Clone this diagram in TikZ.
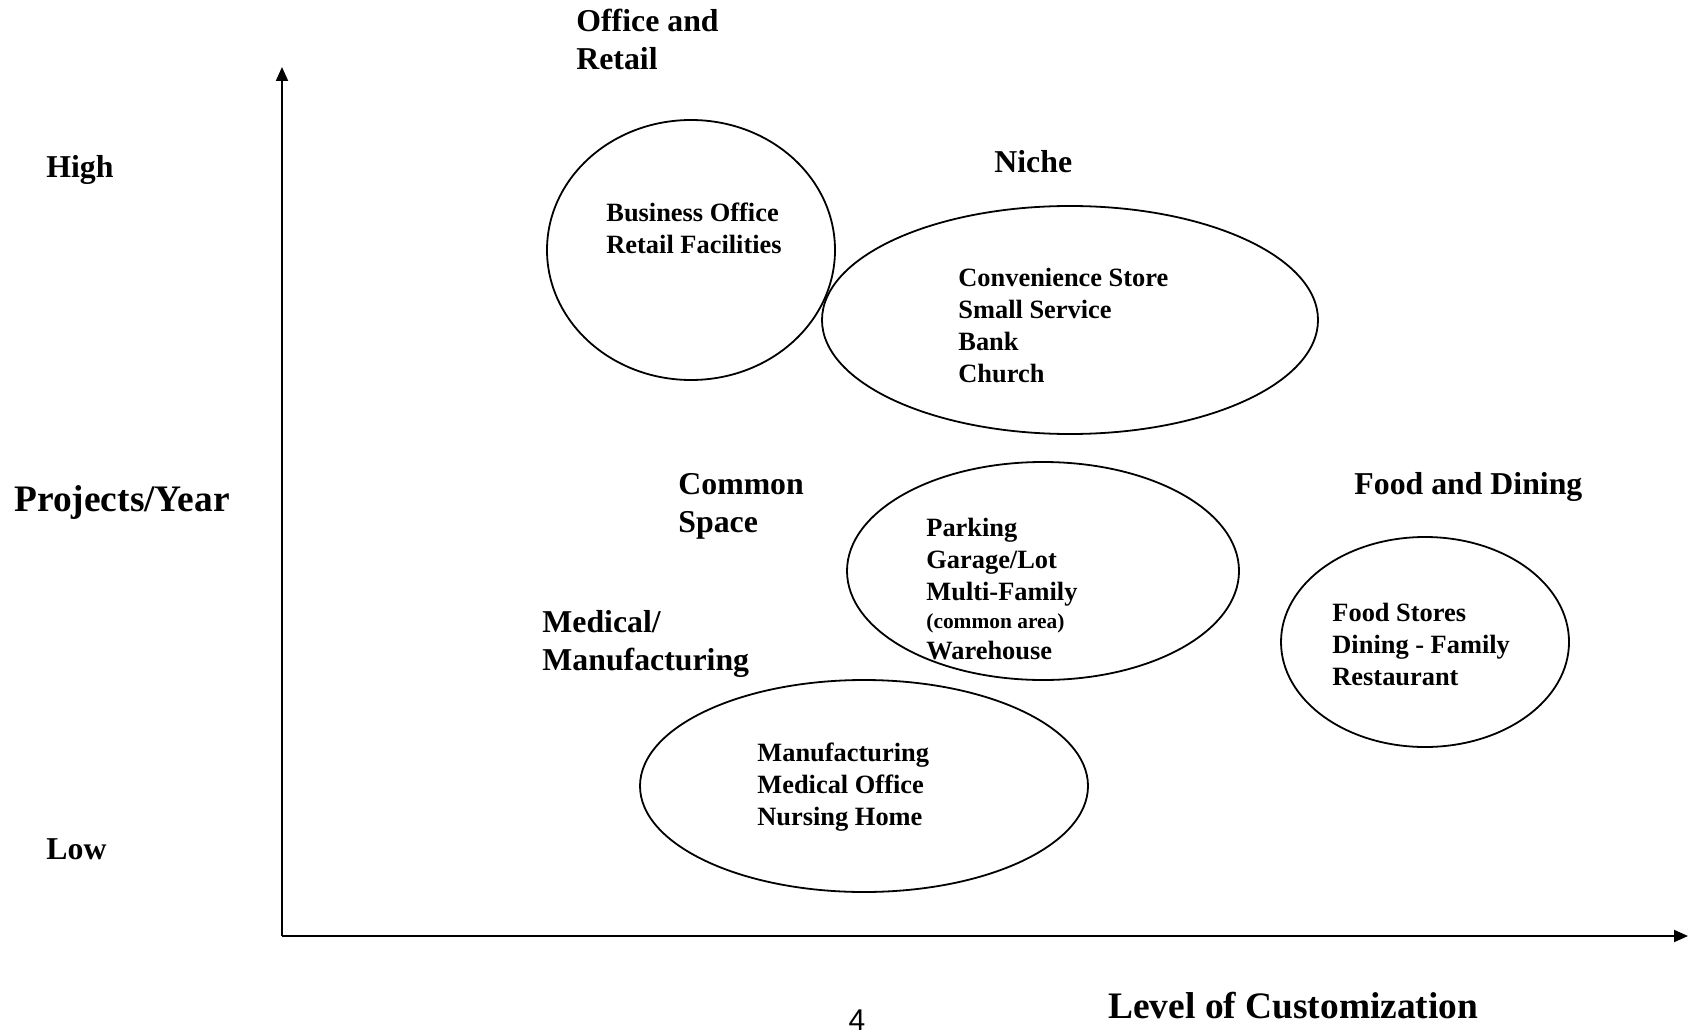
\documentclass[tikz,border=0pt]{standalone}
\usepackage{fontspec}
\setmainfont{Liberation Serif}
\newfontfamily\pagenofont{Liberation Sans}
\usetikzlibrary{arrows.meta}

\tikzset{
  axis/.style={line width=1pt,-{Triangle[length=7pt,width=6pt]}},
  blob/.style={line width=0.9pt},
  axislabel/.style={font=\fontsize{18.7}{22}\selectfont\bfseries},
  grouplabel/.style={font=\fontsize{15.9}{19}\selectfont\bfseries,align=left},
  itemlist/.style={font=\fontsize{13.2}{16}\selectfont\bfseries,align=left},
}
\newcommand{\smallnote}[1]{{\fontsize{10.7}{13}\selectfont #1}}

\begin{document}
% multi-line labels sit on the baseline of their last line
\begin{tikzpicture}[x=0.5pt,y=-0.5pt,every node/.style={inner sep=0pt,anchor=base west}]
\useasboundingbox (0,0) rectangle (1690,1032);
\coordinate (O) at (282,936);
\coordinate (Ytop) at (282,67);
\coordinate (Xend) at (1688,936);
\draw[axis] (O) -- (Ytop);
\draw[axis] (O) -- (Xend);
% the five clusters
\draw[blob] (691,250) ellipse[x radius=144,y radius=130];
\draw[blob] (1070,320) ellipse[x radius=248,y radius=114];
\draw[blob] (1043,571) ellipse[x radius=196,y radius=109];
\draw[blob] (1425,642) ellipse[x radius=144,y radius=105];
\draw[blob] (864,786) ellipse[x radius=224,y radius=106];
% axis labels
\node[axislabel] (py) at (14,511) {Projects/Year};
\node[axislabel] (lc) at (1108,1018) {Level of Customization};
\node[grouplabel] (hi) at (46,178) {High};
\node[grouplabel] (lo) at (46,859) {Low};
% group names
\node[grouplabel] (ofr) at (576,70) {Office and\\Retail};
\node[grouplabel] (nic) at (994,173) {Niche};
\node[grouplabel] (cms) at (678,532) {Common\\Space};
\node[grouplabel] (fdd) at (1354,494) {Food and Dining};
\node[grouplabel] (mmf) at (542,670) {Medical/\\Manufacturing};
% what sits in each cluster
\node[itemlist] (ofr-in) at (606,253) {Business Office\\Retail Facilities};
\node[itemlist] (nic-in) at (958,382) {Convenience Store\\Small Service\\Bank\\Church};
\node[itemlist] (cms-in) at (926,659) {Parking\\Garage/Lot\\Multi-Family\\[-2pt]\smallnote{(common area)}\\[-0.5pt]Warehouse};
\node[itemlist] (fdd-in) at (1332,685) {Food Stores\\Dining - Family\\Restaurant};
\node[itemlist] (mmf-in) at (757,825) {Manufacturing\\Medical Office\\Nursing Home};
\node[font=\pagenofont\fontsize{15}{18}\selectfont,anchor=base] (pg) at (857,1030) {4};
\end{tikzpicture}
\end{document}
